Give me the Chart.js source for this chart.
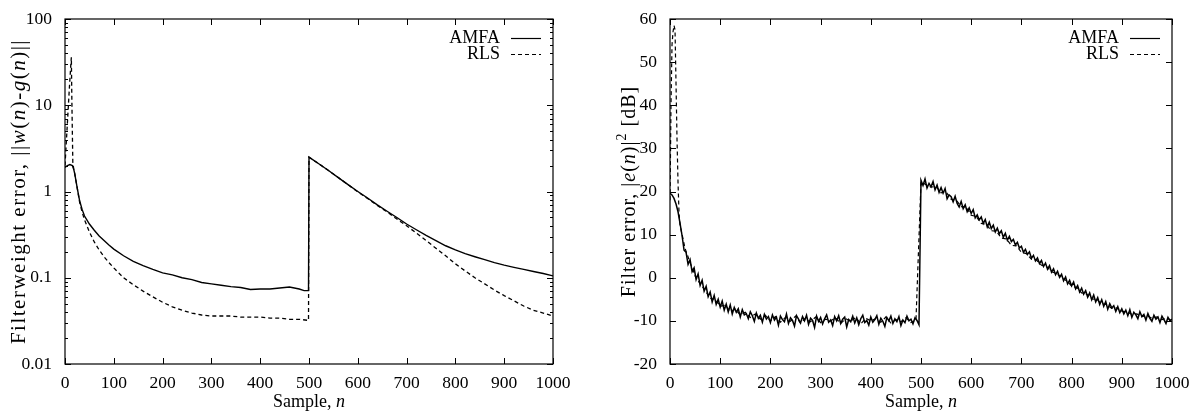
<!DOCTYPE html>
<html>
<head>
<meta charset="utf-8">
<script src="https://cdn.jsdelivr.net/npm/chart.js@4.4.1/dist/chart.umd.min.js"></script>
<style>
  body { margin: 0; background: #fff; width: 1191px; height: 412px; overflow: hidden; position: relative; }
  #left { position: absolute; left: 0; top: 0; }
  #right { position: absolute; left: 580px; top: 0; }
</style>
</head>
<body>
<canvas id="left" width="580" height="412"></canvas>
<canvas id="right" width="611" height="412"></canvas>
<script>
// ---- left panel: filterweight error (log scale) ----
const amfaLeftN = [0,5,10,15,18,20,25,30,35,40,50,60,70,80,90,100,120,140,160,180,200,220,240,260,280,300,320,340,360,380,400,420,440,460,480,490,499,
  500,520,540,560,580,600,620,640,660,680,700,720,740,760,780,800,820,840,860,880,900,920,940,960,980,1000];
const amfaLeft = [1.9,2.0,2.05,2.0,1.8,1.6,1.1,0.78,0.62,0.52,0.42,0.355,0.305,0.27,0.24,0.215,0.18,0.155,0.138,0.125,0.114,0.108,0.1,0.095,0.088,0.085,0.082,0.079,0.077,0.073,0.074,0.074,0.076,0.078,0.074,0.071,0.071,
  2.5,2.1,1.75,1.45,1.2,1.0,0.84,0.7,0.59,0.5,0.42,0.36,0.31,0.27,0.235,0.21,0.19,0.175,0.162,0.15,0.14,0.132,0.125,0.118,0.112,0.105];

const rlsLeftN = [0,3,6,9,12,13,14,16,18,20,25,30,35,40,50,60,70,80,90,100,120,140,160,180,200,220,240,260,280,300,320,340,360,380,400,420,440,460,480,499,
  500,520,540,560,580,600,620,640,660,680,700,720,740,760,780,800,820,840,860,880,900,920,940,960,980,1000];
const rlsLeft = [2.0,4,8,16,30,36,12,2.2,1.8,1.6,1.1,0.75,0.58,0.47,0.34,0.26,0.21,0.175,0.15,0.13,0.1,0.083,0.07,0.06,0.052,0.046,0.042,0.039,0.037,0.036,0.036,0.036,0.035,0.035,0.035,0.034,0.034,0.033,0.033,0.032,
  2.5,2.1,1.75,1.45,1.2,0.99,0.83,0.69,0.58,0.48,0.4,0.33,0.27,0.22,0.18,0.145,0.12,0.1,0.085,0.072,0.062,0.054,0.047,0.042,0.039,0.036];

const logTicks = [0.01, 0.1, 1, 10, 100];

// ---- right panel: filter error in dB, AMFA every 4 samples ----
const amfaRightStep = 4;
const amfaRight = [
  19.6,19.2,18.4,17.1,15.3,12.6,9.8,6.4,5.9,3.1,4.2,1.4,2.3,-0.4,0.9,-1.8,-0.6,-3.1,-2.0,-4.4,-3.3,-5.6,-4.1,-6.2,-5.0,
  -6.8,-5.4,-7.5,-6.1,-7.9,-6.3,-8.4,-6.9,-8.0,-7.2,-9.1,-7.4,-8.6,-8.3,-9.5,-7.9,-8.8,-10.1,-8.2,-9.4,-8.7,-10.3,-8.5,-9.6,-9.0,
  -10.4,-8.6,-9.8,-9.1,-11.0,-8.9,-9.7,-10.2,-8.4,-10.6,-9.3,-9.9,-11.2,-8.8,-9.6,-10.5,-9.0,-10.0,-8.7,-10.8,-9.4,-9.9,-11.5,-8.9,-10.1,
  -9.2,-10.7,-9.5,-8.6,-10.3,-9.8,-11.1,-9.0,-10.0,-8.8,-10.6,-9.6,-9.1,-11.4,-9.7,-10.2,-8.9,-10.5,-9.3,-10.9,-9.5,-8.7,-10.4,-9.9,-11.0,
  -9.1,-10.3,-9.7,-8.8,-10.8,-9.4,-10.1,-11.3,-9.2,-10.0,-8.9,-10.6,-9.5,-10.2,-9.0,-11.1,-9.8,-10.4,-8.9,-10.0,-9.6,-10.7,-9.3,-9.9,-10.9,
  22.6,21.4,22.9,20.8,21.9,21.1,22.3,20.4,21.5,19.8,20.9,19.6,20.7,18.3,19.2,18.8,17.6,18.9,17.2,16.4,17.7,16.0,16.9,15.3,16.2,
  14.9,15.8,13.9,14.6,13.4,14.1,12.6,13.5,11.8,12.9,11.4,12.2,10.6,11.5,10.2,10.9,9.4,10.3,8.7,9.6,8.4,8.9,7.6,8.2,6.9,
  7.3,5.9,6.6,5.4,6.0,4.5,5.2,3.9,4.6,3.3,4.0,2.6,3.4,2.0,2.8,1.3,2.1,0.7,1.5,0.1,0.8,-0.7,0.2,-1.4,-0.6,
  -1.9,-1.0,-2.6,-1.8,-3.3,-2.4,-3.8,-3.0,-4.5,-3.5,-5.1,-4.0,-5.6,-4.6,-6.2,-5.1,-6.6,-5.5,-7.3,-6.0,-7.0,-6.5,-7.8,-6.7,-8.1,
  -7.2,-8.4,-7.5,-8.8,-7.4,-9.2,-8.0,-8.6,-9.5,-7.9,-9.0,-8.5,-9.8,-8.3,-9.4,-10.1,-8.7,-9.6,-9.1,-10.4,-8.9,-9.7,-10.6,-9.2,-10.0,-9.6
];

// RLS: dense start (spike), then every 10 samples
const rlsRightN = [0,2,4,6,8,10,12,14,16,18,20,
  30,40,50,60,70,80,90,100,110,120,130,140,150,160,170,180,190,200,210,220,230,240,250,260,270,280,290,300,
  310,320,330,340,350,360,370,380,390,400,410,420,430,440,450,460,470,480,490,
  500,510,520,530,540,550,560,570,580,590,600,610,620,630,640,650,660,670,680,690,700,
  710,720,730,740,750,760,770,780,790,800,810,820,830,840,850,860,870,880,890,900,
  910,920,930,940,950,960,970,980,990,1000];
const rlsRight = [18,40,54,57,58.5,57.5,45,32,22,15,12.2,
  6.8,3.5,0.4,-1.4,-2.9,-4.8,-5.0,-6.6,-6.4,-7.8,-7.3,-8.6,-8.0,-9.2,-8.4,-9.6,-8.7,-10.0,-9.0,-10.3,-9.2,-10.1,-8.9,-10.5,-9.4,-10.2,-9.1,-10.4,
  -9.6,-10.0,-9.3,-10.6,-9.5,-10.1,-9.2,-10.7,-9.4,-10.0,-9.5,-10.3,-9.1,-10.5,-9.7,-10.2,-9.3,-10.4,-9.8,
  22.2,21.6,21.0,21.2,19.7,19.9,18.2,18.0,16.5,16.4,14.5,14.2,12.6,12.4,10.9,10.8,9.2,9.0,7.5,7.4,5.9,
  5.6,4.3,4.1,2.9,2.6,1.4,1.0,0.0,-0.7,-1.9,-2.3,-3.5,-3.8,-4.9,-5.0,-6.1,-6.2,-7.1,-7.0,-7.8,
  -7.9,-8.5,-8.4,-9.0,-8.8,-9.4,-9.1,-9.7,-9.3,-10.0];

const seriesNames = ['AMFA', 'RLS'];
const FONT = '"Liberation Serif", "Times New Roman", serif';

function pts(xs, ys) { return ys.map((v, i) => ({ x: xs[i], y: v })); }
function stepPts(step, ys) { return ys.map((v, i) => ({ x: i * step, y: v })); }

// draw text made of [text, style] parts; style 'n' normal, 'i' italic, 's' superscript
function richText(ctx, parts, x, y, size, spacing) {
  const fontFor = s => (s === 'i' ? 'italic ' : '') + (s === 's' ? Math.round(size * 0.7) : size) + 'px ' + FONT;
  ctx.letterSpacing = (spacing || 0) + 'px';
  let w = 0;
  parts.forEach(p => { ctx.font = fontFor(p[1]); w += ctx.measureText(p[0]).width; });
  let cx = x - w / 2;
  ctx.textAlign = 'left';
  ctx.textBaseline = 'middle';
  parts.forEach(p => {
    ctx.font = fontFor(p[1]);
    ctx.fillText(p[0], cx, p[1] === 's' ? y - size * 0.38 : y);
    cx += ctx.measureText(p[0]).width;
  });
  ctx.letterSpacing = '0px';
}

const framePlugin = {
  id: 'frame',
  afterDatasetsDraw(chart, args, opts) {
    const { ctx, chartArea: a, scales: { x, y } } = chart;
    ctx.save();
    ctx.strokeStyle = '#000';
    ctx.fillStyle = '#000';
    ctx.lineWidth = 1.2;
    ctx.setLineDash([]);
    ctx.strokeRect(a.left, a.top, a.right - a.left, a.bottom - a.top);

    ctx.beginPath();
    x.ticks.forEach(t => {
      const px = Math.round(x.getPixelForValue(t.value)) + 0.5;
      ctx.moveTo(px, a.bottom); ctx.lineTo(px, a.bottom - 6);
      ctx.moveTo(px, a.top); ctx.lineTo(px, a.top + 6);
    });
    y.ticks.forEach(t => {
      const py = Math.round(y.getPixelForValue(t.value)) + 0.5;
      ctx.moveTo(a.left, py); ctx.lineTo(a.left + 6, py);
      ctx.moveTo(a.right, py); ctx.lineTo(a.right - 6, py);
    });
    (opts.minor || []).forEach(v => {
      const py = Math.round(y.getPixelForValue(v)) + 0.5;
      ctx.moveTo(a.left, py); ctx.lineTo(a.left + 3, py);
      ctx.moveTo(a.right, py); ctx.lineTo(a.right - 3, py);
    });
    ctx.lineWidth = 1;
    ctx.stroke();

    // legend, top right inside the frame
    ctx.font = '18px ' + FONT;
    ctx.textAlign = 'right';
    ctx.textBaseline = 'middle';
    chart.data.datasets.forEach((ds, i) => {
      const ly = a.top + 19 + i * 16;
      ctx.fillText(ds.label, a.right - 53, ly);
      ctx.beginPath();
      ctx.setLineDash(ds.borderDash || []);
      ctx.lineWidth = 1.2;
      ctx.moveTo(a.right - 42, ly + 0.5);
      ctx.lineTo(a.right - 12, ly + 0.5);
      ctx.stroke();
    });
    ctx.setLineDash([]);

    // axis titles
    richText(ctx, opts.xTitle, (a.left + a.right) / 2, 402, 18, 0);
    ctx.translate(opts.yTitleX, (a.top + a.bottom) / 2);
    ctx.rotate(-Math.PI / 2);
    richText(ctx, opts.yTitle, 0, 0, opts.yTitleSize, opts.yTitleSpacing);
    ctx.restore();
  }
};

Chart.defaults.font.family = FONT;
Chart.defaults.color = '#000';

function makeOptions(yScale, yWidth, padRight, frame) {
  return {
    responsive: false,
    animation: false,
    devicePixelRatio: 1,
    layout: { padding: { top: 19, right: padRight, left: 0, bottom: 0 } },
    plugins: { legend: { display: false }, tooltip: { enabled: false }, frame: frame },
    elements: { point: { radius: 0 }, line: { tension: 0 } },
    scales: {
      x: {
        type: 'linear', min: 0, max: 1000,
        grid: { display: false }, border: { display: false },
        ticks: { stepSize: 100, padding: 1, maxRotation: 0, font: { size: 17.5 }, callback: v => String(v) },
        afterFit: s => { s.height = 48; }
      },
      y: Object.assign({
        grid: { display: false }, border: { display: false },
        afterFit: s => { s.width = yWidth; }
      }, yScale)
    }
  };
}

const minorLog = [];
[0.01, 0.1, 1, 10].forEach(d => { for (let k = 2; k <= 9; k++) minorLog.push(d * k); });

new Chart(document.getElementById('left'), {
  type: 'line',
  data: {
    datasets: [
      { label: seriesNames[0], data: pts(amfaLeftN, amfaLeft), borderColor: '#000', borderWidth: 1.4 },
      { label: seriesNames[1], data: pts(rlsLeftN, rlsLeft), borderColor: '#000', borderWidth: 1.3, borderDash: [4, 3] }
    ]
  },
  options: makeOptions({
    type: 'logarithmic', min: 0.01, max: 100,
    afterBuildTicks: s => { s.ticks = logTicks.map(v => ({ value: v })); },
    ticks: { padding: 5, font: { size: 17.5 }, callback: v => String(v) }
  }, 65, 27, {
    minor: minorLog,
    xTitle: [['Sample, ', 'n'], ['n', 'i']],
    yTitle: [['Filterweight error, ||', 'n'], ['w', 'i'], ['(', 'n'], ['n', 'i'], [')-', 'n'], ['g', 'i'], ['(', 'n'], ['n', 'i'], [')||', 'n']],
    yTitleX: 19,
    yTitleSize: 21,
    yTitleSpacing: 1.5
  }),
  plugins: [framePlugin]
});

new Chart(document.getElementById('right'), {
  type: 'line',
  data: {
    datasets: [
      { label: seriesNames[0], data: stepPts(amfaRightStep, amfaRight), borderColor: '#000', borderWidth: 1.5 },
      { label: seriesNames[1], data: pts(rlsRightN, rlsRight), borderColor: '#000', borderWidth: 1.2, borderDash: [4, 3] }
    ]
  },
  options: makeOptions({
    type: 'linear', min: -20, max: 60,
    ticks: { stepSize: 10, padding: 5, font: { size: 17.5 } }
  }, 90, 19, {
    minor: [],
    xTitle: [['Sample, ', 'n'], ['n', 'i']],
    yTitle: [['Filter error, |', 'n'], ['e', 'i'], ['(', 'n'], ['n', 'i'], [')|', 'n'], ['2', 's'], [' [dB]', 'n']],
    yTitleX: 50,
    yTitleSize: 20,
    yTitleSpacing: 1
  }),
  plugins: [framePlugin]
});
</script>
</body>
</html>
